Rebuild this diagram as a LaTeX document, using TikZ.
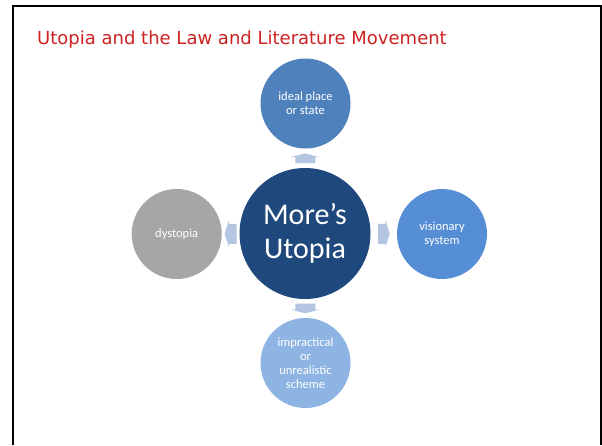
\documentclass[tikz,border=0pt]{standalone}
\usepackage{fontspec}
\setmainfont{Carlito}
\newfontfamily\titlefont{DejaVu Sans}
\usetikzlibrary{calc}
\definecolor{cCenter}{HTML}{1F497D}
\definecolor{cTop}{HTML}{4F81BD}
\definecolor{cRight}{HTML}{558ED5}
\definecolor{cLeft}{HTML}{A6A6A6}
\definecolor{cBottom}{HTML}{8EB4E3}
\definecolor{cArrow}{HTML}{B3C5E0}
\definecolor{cTitle}{HTML}{CC2222}
\tikzset{
  bubble/.style={circle, draw=none, inner sep=0pt, text=white, align=center,
    font=\fontsize{12.5}{14}\selectfont},
  frameline/.style={line width=2pt, black},
  blockarrow/.pic={
    \fill[cArrow] (-6,-10) -- (1.5,-10) -- (1.5,-14) -- (6,0)
      -- (1.5,14) -- (1.5,10) -- (-6,10) -- cycle;
  }
}
\begin{document}
\begin{tikzpicture}[x=1pt,y=-1pt]
\useasboundingbox (0,0) rectangle (602,445);
\fill[white] (0,0) rectangle (602,445);
\draw[frameline] (13,445) -- (13,6) -- (600.5,6) -- (600.5,445);
\node[anchor=base west, text=cTitle, inner sep=0pt, font=\titlefont\fontsize{18}{20}\selectfont] (title) at (37,44.5) {Utopia and the Law and Literature Movement};
\node[bubble, fill=cCenter, minimum size=131pt, font=\fontsize{30}{34}\selectfont] (c) at (305,233.5) {More’s\\Utopia};
\node[bubble, fill=cTop, minimum size=90pt] (t) at (305.5,103.5) {ideal place\\or state};
\node[bubble, fill=cRight, minimum size=90pt] (r) at (442,234) {visionary\\system};
\node[bubble, fill=cLeft, minimum size=90pt] (l) at (176.7,234) {dystopia};
\node[bubble, fill=cBottom, minimum size=90pt] (b) at (305.5,363) {impractical\\or\\unrealistic\\scheme};
\coordinate (mt) at ($(c.north)!0.5!(t.south)$);
\coordinate (mr) at ($(c.east)!0.5!(r.west)$);
\coordinate (ml) at ($(c.west)!0.5!(l.east)$);
\coordinate (mb) at ($(c.south)!0.5!(b.north)$);
\pic[rotate=90, xscale=0.8] at (mt) {blockarrow};
\pic at (mr) {blockarrow};
\pic[rotate=180] at (ml) {blockarrow};
\pic[rotate=-90, xscale=0.8] at (mb) {blockarrow};
\end{tikzpicture}
\end{document}
